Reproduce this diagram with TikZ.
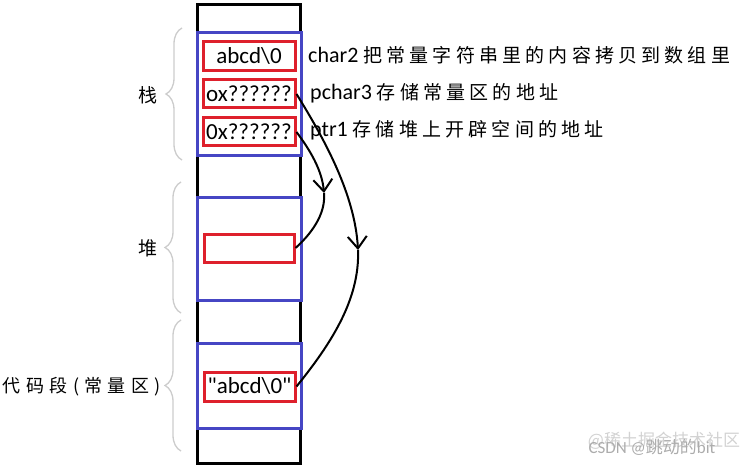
\documentclass[tikz,border=0pt]{standalone}
\usepackage{fontspec}
\setmainfont{Carlito}
\newfontfamily\latraw{Carlito}
\newfontfamily\cjkfont[LetterSpace=22]{Noto Sans CJK SC}
\newfontfamily\cjkwide[LetterSpace=30]{Noto Sans CJK SC}
\newfontfamily\cjkplain{Noto Sans CJK SC}
\usetikzlibrary{arrows.meta,decorations.pathreplacing}
\definecolor{segblue}{RGB}{70,70,196}
\definecolor{cellred}{RGB}{222,32,44}
\begin{document}
\begin{tikzpicture}[x=1pt,y=-1pt,
  blk/.style={draw=black,line width=3pt,inner sep=0pt},
  seg/.style={draw=segblue,line width=3pt,fill=white,inner sep=0pt},
  cell/.style={draw=cellred,line width=3pt,inner sep=0pt,font=\fontsize{23}{24}\selectfont},
  cn/.style={font=\cjkfont\fontsize{19}{20}\selectfont,inner sep=0pt},
  desc/.style={anchor=base west,inner sep=0pt,font=\fontsize{22}{24}\selectfont},
  ptrline/.style={line width=2pt,draw=black},
  barb/.style={-{Straight Barb[length=12pt,width=19pt]}},
  brc/.style={draw=gray!40,line width=1.3pt,decorate,decoration={brace,amplitude=16pt}},
  wm/.style={inner sep=0pt,font=\fontsize{17}{17}\selectfont}]
\useasboundingbox (0,0) rectangle (747,468);
% memory column
\node[blk,minimum width=103pt,minimum height=458pt] (col) at (248.5,234) {};
% segments
\node[seg,minimum width=104pt,minimum height=123pt] (stack) at (249,94.5) {};
\node[seg,minimum width=104pt,minimum height=103pt] (heap) at (249,248.5) {};
\node[seg,minimum width=104pt,minimum height=85pt] (code) at (249,385.5) {};
% cells
\node[cell,minimum width=92pt,minimum height=29pt] (c2) at (249,56.5) {abcd\textbackslash0};
\node[cell,minimum width=92pt,minimum height=28pt] (p3) at (249,94) {ox??????};
\node[cell,minimum width=92pt,minimum height=28pt] (ptr) at (249,132) {0x??????};
\node[cell,minimum width=90pt,minimum height=28pt] (heapbox) at (249,248) {};
\node[cell,minimum width=91pt,minimum height=29pt] (conststr) at (249.5,386.5) {\latraw "abcd\textbackslash0"};
% descriptions
\node[desc] (d1) at (308,63) {char2 {\cjkfont\fontsize{19}{20}\selectfont 把常量字符串里的内容拷贝到数组里}};
\node[desc] (d2) at (310,100) {pchar3 {\cjkfont\fontsize{19}{20}\selectfont 存储常量区的地址}};
\node[desc] (d3) at (310,137) {ptr1 {\cjkfont\fontsize{19}{20}\selectfont 存储堆上开辟空间的地址}};
% region labels
\node[cn] (lstack) at (148,95) {栈};
\node[cn] (lheap) at (148,248) {堆};
\node[inner sep=0pt,anchor=east,font=\cjkwide\fontsize{18}{20}\selectfont] (lcode) at (161,387) {代码段(常量区)};
% braces
\draw[brc] (182,160) -- (182,28);
\draw[brc] (181,313) -- (181,182);
\draw[brc] (181,451) -- (181,320);
% pointer arrows
\coordinate (t1) at (324,193);
\coordinate (t2) at (358,250);
\draw[ptrline,barb] (ptr.east) .. controls (310,150) and (322,170) .. (t1);
\draw[ptrline] (t1) .. controls (326,215) and (310,235) .. (heapbox.east);
\draw[ptrline,barb] (p3.east) .. controls (325,140) and (355,195) .. (t2);
\draw[ptrline] (t2) .. controls (360,300) and (330,345) .. (conststr.east);
% watermark
\node[wm,text=gray!35] (wm2) at (664,441) {\cjkplain @稀土掘金技术社区};
\node[wm,text=gray!65] (wm1) at (652,447) {CSDN @{\cjkplain 跳动的}bit};
\end{tikzpicture}
\end{document}
